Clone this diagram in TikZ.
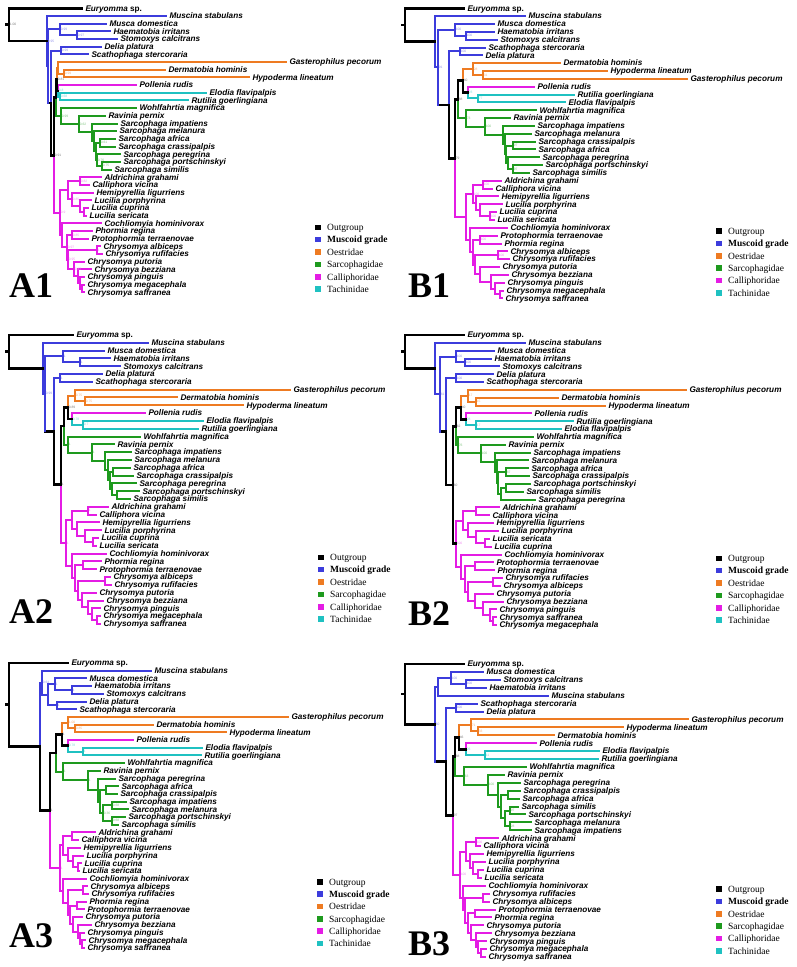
\documentclass[tikz,border=0pt]{standalone}
\usepackage{fontspec}
\setmainfont{Liberation Serif}
\setsansfont{Liberation Sans}
\usetikzlibrary{calc}
\definecolor{mb}{HTML}{3C3CDC}
\definecolor{mo}{HTML}{EE7B22}
\definecolor{mg}{HTML}{1E9A1E}
\definecolor{mm}{HTML}{E41CE4}
\definecolor{mc}{HTML}{1FC1C1}
\tikzset{
 Ck/.style={draw=black, line width=2.7pt, line cap=rect},
 Cb/.style={draw=mb, line width=2pt, line cap=rect},
 Co/.style={draw=mo, line width=2pt, line cap=rect},
 Cg/.style={draw=mg, line width=2pt, line cap=rect},
 Cm/.style={draw=mm, line width=2pt, line cap=rect},
 Cc/.style={draw=mc, line width=2pt, line cap=rect},
 tiplab/.style={anchor=base west, inner sep=0pt, xshift=3.3pt, yshift=-2.8pt, font=\fontsize{8.2}{8.2}\selectfont\sffamily\bfseries\itshape},
 suplab/.style={anchor=west, inner sep=0.6pt, font=\fontsize{3.3}{3.3}\selectfont\sffamily},
 leglab/.style={anchor=base west, inner sep=0pt, yshift=-3.3pt, font=\fontsize{9.5}{10}\selectfont},
 plab/.style={anchor=base west, inner sep=0pt, font=\fontsize{36}{36}\selectfont\bfseries},
}
% tip: name, row, parent x, x, style, label
\newcommand\Tp[6]{%
 \coordinate (#1) at ({(\PX+#4)*1pt},{-(\PY+#2*\PD)*1pt});
 \draw[#5] (#1) -- ++({(#3-#4)*1pt},0);
 \node[tiplab] (#1l) at (#1) {#6};}
% node: name, parent x, x, stem style, child1, child2, top style, bottom style
\newcommand\Nd[8]{%
 \path let \p1=(#5), \p2=(#6) in coordinate (#1) at ({(\PX+#3)*1pt},{0.5*\y1+0.5*\y2});
 \draw[#7] (#1) -- (#1 |- #5);
 \draw[#8] (#1) -- (#1 |- #6);
 \draw[#4] (#1) -- ++({(#2-#3)*1pt},0);}
\newcommand\Nu[6]{\Nd{#1}{#2}{#3}{#4}{#5}{#6}{#4}{#4}}
\newcommand\Sv[3]{\node[suplab,text=#3] (#1s) at (#1) {#2};}
\newcommand\Lg[2]{%
 \foreach \legc/\legt [count=\i from 0] in {black/Outgroup, mb/{\bfseries Muscoid grade}, mo/Oestridae, mg/Sarcophagidae, mm/Calliphoridae, mc/Tachinidae}{
   \fill[\legc] ({#1*1pt},{-(#2+\i*12.35)*1pt-2.8pt}) rectangle ++(5.6pt,5.6pt);
   \node[leglab] (lg\i) at ({(#1+12)*1pt},{-(#2+\i*12.35)*1pt}) {\legt};
 }}
\begin{document}
\begin{tikzpicture}[x=1pt,y=1pt]
\useasboundingbox (0,0) rectangle (796,-967);
\fill[white] (0,0) rectangle (796,-967);

%================ A1 ================
\begin{scope}[name prefix=A1-]
\def\PX{0}\def\PY{8.3}\def\PD{7.68}
\Tp{eu}{0}{9}{82}{Ck}{Euryomma {\upshape sp.}}
\Tp{t1}{1}{47}{166}{Cb}{Muscina stabulans}
\Tp{t2}{2}{60}{106}{Cb}{Musca domestica}
\Tp{t3}{3}{77}{110}{Cb}{Haematobia irritans}
\Tp{t4}{4}{77}{117}{Cb}{Stomoxys calcitrans}
\Tp{t5}{5}{61}{101}{Cb}{Delia platura}
\Tp{t6}{6}{61}{88}{Cb}{Scathophaga stercoraria}
\Tp{t7}{7}{58}{286}{Co}{Gasterophilus pecorum}
\Tp{t8}{8}{64}{165}{Co}{Dermatobia hominis}
\Tp{t9}{9}{64}{249}{Co}{Hypoderma lineatum}
\Tp{t10}{10}{58}{136}{Cm}{Pollenia rudis}
\Tp{t11}{11}{60}{206}{Cc}{Elodia flavipalpis}
\Tp{t12}{12}{60}{188}{Cc}{Rutilia goerlingiana}
\Tp{t13}{13}{61}{136}{Cg}{Wohlfahrtia magnifica}
\Tp{t14}{14}{79}{105}{Cg}{Ravinia pernix}
\Tp{t15}{15}{92}{117}{Cg}{Sarcophaga impatiens}
\Tp{t16}{16}{94}{116}{Cg}{Sarcophaga melanura}
\Tp{t17}{17}{100}{115}{Cg}{Sarcophaga africa}
\Tp{t18}{18}{100}{115}{Cg}{Sarcophaga crassipalpis}
\Tp{t19}{19}{97}{120}{Cg}{Sarcophaga peregrina}
\Tp{t20}{20}{102}{120}{Cg}{Sarcophaga portschinskyi}
\Tp{t21}{21}{102}{111}{Cg}{Sarcophaga similis}
\Tp{t22}{22}{80}{101}{Cm}{Aldrichina grahami}
\Tp{t23}{23}{80}{89}{Cm}{Calliphora vicina}
\Tp{t24}{24}{72}{93}{Cm}{Hemipyrellia ligurriens}
\Tp{t25}{25}{80}{91}{Cm}{Lucilia porphyrina}
\Tp{t26}{26}{84}{88}{Cm}{Lucilia cuprina}
\Tp{t27}{27}{84}{86}{Cm}{Lucilia sericata}
\Tp{t28}{28}{62}{101}{Cm}{Cochliomyia hominivorax}
\Tp{t29}{29}{72}{92}{Cm}{Phormia regina}
\Tp{t30}{30}{72}{88}{Cm}{Protophormia terraenovae}
\Tp{t31}{31}{97}{100}{Cm}{Chrysomya albiceps}
\Tp{t32}{32}{97}{102}{Cm}{Chrysomya rufifacies}
\Tp{t33}{33}{74}{84}{Cm}{Chrysomya putoria}
\Tp{t34}{34}{78}{91}{Cm}{Chrysomya bezziana}
\Tp{t35}{35}{80}{84}{Cm}{Chrysomya pinguis}
\Tp{t36}{36}{82}{84}{Cm}{Chrysomya megacephala}
\Tp{t37}{37}{82}{84}{Cm}{Chrysomya saffranea}
\Nu{HS}{60}{77}{Cb}{t3}{t4}
\Nu{MG}{48}{60}{Cb}{t2}{HS}
\Nu{DG}{51}{61}{Cb}{t5}{t6}
\Nu{DH}{58}{64}{Co}{t8}{t9}
\Nu{OE}{57}{58}{Co}{t7}{DH}
\Nu{TA}{58}{60}{Cc}{t11}{t12}
\Nd{PT}{57}{58}{Ck}{t10}{TA}{Cm}{Cc}
\Nd{OPT}{56}{57}{Ck}{OE}{PT}{Co}{Ck}
\Nu{AC}{96}{100}{Cg}{t17}{t18}
\Nu{PS}{97}{102}{Cg}{t20}{t21}
\Nu{PPS}{96}{97}{Cg}{t19}{PS}
\Nu{Q}{94}{96}{Cg}{AC}{PPS}
\Nu{M}{92}{94}{Cg}{t16}{Q}
\Nu{S}{79}{92}{Cg}{t15}{M}
\Nu{R1}{61}{79}{Cg}{t14}{S}
\Nu{SAR}{56}{61}{Cg}{t13}{R1}
\Nd{OPTS}{54}{56}{Ck}{OPT}{SAR}{Ck}{Cg}
\Nu{AC2}{68}{80}{Cm}{t22}{t23}
\Nu{LCS}{80}{84}{Cm}{t26}{t27}
\Nu{LL}{72}{80}{Cm}{t25}{LCS}
\Nu{HL}{68}{72}{Cm}{t24}{LL}
\Nu{CL}{60}{68}{Cm}{AC2}{HL}
\Nu{MS}{80}{82}{Cm}{t36}{t37}
\Nu{PG2}{78}{80}{Cm}{t35}{MS}
\Nu{BG}{74}{78}{Cm}{t34}{PG2}
\Nu{PG}{68}{74}{Cm}{t33}{BG}
\Nu{AR}{68}{97}{Cm}{t31}{t32}
\Nu{CR2}{67}{68}{Cm}{AR}{PG}
\Nu{PP}{67}{72}{Cm}{t29}{t30}
\Nu{CR}{62}{67}{Cm}{PP}{CR2}
\Nu{CC}{60}{62}{Cm}{t28}{CR}
\Nu{CAL}{54}{60}{Cm}{CL}{CC}
\Nd{Z}{51}{54}{Ck}{OPTS}{CAL}{Ck}{Cm}
\Nd{Y}{48}{51}{Ck}{DG}{Z}{Cb}{Ck}
\Nu{X}{47}{48}{Cb}{MG}{Y}
\Nd{I}{9}{47}{Ck}{t1}{X}{Cb}{Cb}
\Nu{r}{6}{9}{Ck}{eu}{I}
\Sv{r}{1.00}{gray}\Sv{I}{0.95}{mb!55}\Sv{MG}{0.99}{mb!55}\Sv{HS}{0.97}{mb!55}\Sv{DG}{0.99}{mb!55}
\Sv{DH}{0.99}{mo!60}\Sv{OPT}{0.81}{gray}\Sv{PT}{0.8}{mc!60}\Sv{TA}{0.68}{mc!60}
\Sv{SAR}{0.99}{mg!55}\Sv{R1}{0.62}{mg!55}\Sv{AC}{0.61}{mg!55}\Sv{PPS}{0.76}{mg!55}\Sv{PS}{0.75}{mg!55}
\Sv{Z}{0.91}{gray}\Sv{AC2}{0.82}{mm!50}\Sv{HL}{0.85}{mm!50}\Sv{CAL}{0.9}{mm!50}
\Sv{PP}{0.85}{mm!50}\Sv{CR}{0.97}{mm!50}\Sv{AR}{1}{mm!50}\Sv{CR2}{0.95}{mm!50}\Sv{PG}{0.87}{mm!50}
\Lg{315}{227.3}
\node[plab] (lab) at (9,-297) {A1};
\end{scope}

%================ B1 ================
\begin{scope}[name prefix=B1-]
\def\PX{398}\def\PY{8.3}\def\PD{7.84}
\Tp{eu}{0}{7}{66}{Ck}{Euryomma {\upshape sp.}}
\Tp{t1}{1}{37}{127}{Cb}{Muscina stabulans}
\Tp{t2}{2}{57}{96}{Cb}{Musca domestica}
\Tp{t3}{3}{68}{96}{Cb}{Haematobia irritans}
\Tp{t4}{4}{68}{99}{Cb}{Stomoxys calcitrans}
\Tp{t5}{5}{62}{87}{Cb}{Scathophaga stercoraria}
\Tp{t6}{6}{62}{84}{Cb}{Delia platura}
\Tp{t7}{7}{75}{162}{Co}{Dermatobia hominis}
\Tp{t8}{8}{85}{209}{Co}{Hypoderma lineatum}
\Tp{t9}{9}{85}{289}{Co}{Gasterophilus pecorum}
\Tp{t10}{10}{70}{136}{Cm}{Pollenia rudis}
\Tp{t11}{11}{80}{176}{Cc}{Rutilia goerlingiana}
\Tp{t12}{12}{80}{167}{Cc}{Elodia flavipalpis}
\Tp{t13}{13}{68}{138}{Cg}{Wohlfahrtia magnifica}
\Tp{t14}{14}{87}{112}{Cg}{Ravinia pernix}
\Tp{t15}{15}{105}{136}{Cg}{Sarcophaga impatiens}
\Tp{t16}{16}{107}{133}{Cg}{Sarcophaga melanura}
\Tp{t17}{17}{115}{137}{Cg}{Sarcophaga crassipalpis}
\Tp{t18}{18}{115}{137}{Cg}{Sarcophaga africa}
\Tp{t19}{19}{110}{141}{Cg}{Sarcophaga peregrina}
\Tp{t20}{20}{115}{144}{Cg}{Sarcophaga portschinskyi}
\Tp{t21}{21}{115}{131}{Cg}{Sarcophaga similis}
\Tp{t22}{22}{85}{103}{Cm}{Aldrichina grahami}
\Tp{t23}{23}{85}{94}{Cm}{Calliphora vicina}
\Tp{t24}{24}{78}{100}{Cm}{Hemipyrellia ligurriens}
\Tp{t25}{25}{82}{104}{Cm}{Lucilia porphyrina}
\Tp{t26}{26}{92}{98}{Cm}{Lucilia cuprina}
\Tp{t27}{27}{92}{96}{Cm}{Lucilia sericata}
\Tp{t28}{28}{72}{109}{Cm}{Cochliomyia hominivorax}
\Tp{t29}{29}{82}{99}{Cm}{Protophormia terraenovae}
\Tp{t30}{30}{82}{103}{Cm}{Phormia regina}
\Tp{t31}{31}{100}{109}{Cm}{Chrysomya albiceps}
\Tp{t32}{32}{100}{111}{Cm}{Chrysomya rufifacies}
\Tp{t33}{33}{82}{101}{Cm}{Chrysomya putoria}
\Tp{t34}{34}{93}{110}{Cm}{Chrysomya bezziana}
\Tp{t35}{35}{97}{106}{Cm}{Chrysomya pinguis}
\Tp{t36}{36}{102}{105}{Cm}{Chrysomya megacephala}
\Tp{t37}{37}{102}{104}{Cm}{Chrysomya saffranea}
\Nu{HS}{57}{68}{Cb}{t3}{t4}
\Nu{MG}{40}{57}{Cb}{t2}{HS}
\Nu{DG}{51}{62}{Cb}{t5}{t6}
\Nu{HG}{75}{85}{Co}{t8}{t9}
\Nu{OE}{65}{75}{Co}{t7}{HG}
\Nu{TA}{70}{80}{Cc}{t11}{t12}
\Nd{PT}{65}{70}{Ck}{t10}{TA}{Cm}{Cc}
\Nd{OPT}{60}{65}{Ck}{OE}{PT}{Co}{Ck}
\Nu{AC}{108}{115}{Cg}{t17}{t18}
\Nu{PS}{110}{115}{Cg}{t20}{t21}
\Nu{PPS}{108}{110}{Cg}{t19}{PS}
\Nu{Q}{107}{108}{Cg}{AC}{PPS}
\Nu{M}{105}{107}{Cg}{t16}{Q}
\Nu{S}{87}{105}{Cg}{t15}{M}
\Nu{R1}{68}{87}{Cg}{t14}{S}
\Nu{SAR}{60}{68}{Cg}{t13}{R1}
\Nd{OPTS}{57}{60}{Ck}{OPT}{SAR}{Ck}{Cg}
\Nu{AC2}{75}{85}{Cm}{t22}{t23}
\Nu{LCS}{82}{92}{Cm}{t26}{t27}
\Nu{LL}{78}{82}{Cm}{t25}{LCS}
\Nu{HL}{75}{78}{Cm}{t24}{LL}
\Nu{CL}{68}{75}{Cm}{AC2}{HL}
\Nu{MS}{97}{102}{Cm}{t36}{t37}
\Nu{PG2}{93}{97}{Cm}{t35}{MS}
\Nu{BG}{82}{93}{Cm}{t34}{PG2}
\Nu{PG}{77}{82}{Cm}{t33}{BG}
\Nu{AR}{77}{100}{Cm}{t31}{t32}
\Nu{CR2}{75}{77}{Cm}{AR}{PG}
\Nu{PP}{75}{82}{Cm}{t29}{t30}
\Nu{CR}{72}{75}{Cm}{PP}{CR2}
\Nu{CC}{68}{72}{Cm}{t28}{CR}
\Nu{CAL}{57}{68}{Cm}{CL}{CC}
\Nd{Z}{51}{57}{Ck}{OPTS}{CAL}{Ck}{Cm}
\Nd{Y}{40}{51}{Ck}{DG}{Z}{Cb}{Ck}
\Nu{X}{37}{40}{Cb}{MG}{Y}
\Nd{I}{7}{37}{Ck}{t1}{X}{Cb}{Cb}
\Nu{r}{4}{7}{Ck}{eu}{I}
\Sv{MG}{100}{mb!55}\Sv{HS}{100}{mb!55}\Sv{DG}{100}{mb!55}\Sv{X}{91}{mb!55}
\Sv{OE}{28}{mo!60}\Sv{HG}{31}{mo!60}\Sv{OPT}{40}{gray}\Sv{PT}{23}{mc!60}\Sv{TA}{77}{mc!60}
\Sv{OPTS}{88}{gray}\Sv{SAR}{73}{mg!55}\Sv{R1}{100}{mg!55}\Sv{AC}{97}{mg!55}\Sv{PS}{97}{mg!55}
\Sv{Z}{79}{gray}\Sv{AC2}{100}{mm!50}\Sv{CL}{100}{mm!50}\Sv{LCS}{100}{mm!50}\Sv{PP}{100}{mm!50}\Sv{AR}{100}{mm!50}
\Lg{716}{231}
\node[plab] (lab) at (408,-297) {B1};
\end{scope}

%================ A2 ================
\begin{scope}[name prefix=A2-]
\def\PX{0}\def\PY{335}\def\PD{7.81}
\Tp{eu}{0}{9}{73}{Ck}{Euryomma {\upshape sp.}}
\Tp{t1}{1}{43}{148}{Cb}{Muscina stabulans}
\Tp{t2}{2}{63}{104}{Cb}{Musca domestica}
\Tp{t3}{3}{80}{110}{Cb}{Haematobia irritans}
\Tp{t4}{4}{80}{120}{Cb}{Stomoxys calcitrans}
\Tp{t5}{5}{60}{102}{Cb}{Delia platura}
\Tp{t6}{6}{60}{92}{Cb}{Scathophaga stercoraria}
\Tp{t7}{7}{75}{290}{Co}{Gasterophilus pecorum}
\Tp{t8}{8}{85}{177}{Co}{Dermatobia hominis}
\Tp{t9}{9}{85}{243}{Co}{Hypoderma lineatum}
\Tp{t10}{10}{72}{145}{Cm}{Pollenia rudis}
\Tp{t11}{11}{83}{203}{Cc}{Elodia flavipalpis}
\Tp{t12}{12}{83}{198}{Cc}{Rutilia goerlingiana}
\Tp{t13}{13}{68}{140}{Cg}{Wohlfahrtia magnifica}
\Tp{t14}{14}{92}{114}{Cg}{Ravinia pernix}
\Tp{t15}{15}{105}{131}{Cg}{Sarcophaga impatiens}
\Tp{t16}{16}{108}{131}{Cg}{Sarcophaga melanura}
\Tp{t17}{17}{113}{130}{Cg}{Sarcophaga africa}
\Tp{t18}{18}{113}{133}{Cg}{Sarcophaga crassipalpis}
\Tp{t19}{19}{112}{136}{Cg}{Sarcophaga peregrina}
\Tp{t20}{20}{117}{139}{Cg}{Sarcophaga portschinskyi}
\Tp{t21}{21}{117}{130}{Cg}{Sarcophaga similis}
\Tp{t22}{22}{88}{108}{Cm}{Aldrichina grahami}
\Tp{t23}{23}{88}{96}{Cm}{Calliphora vicina}
\Tp{t24}{24}{77}{99}{Cm}{Hemipyrellia ligurriens}
\Tp{t25}{25}{85}{101}{Cm}{Lucilia porphyrina}
\Tp{t26}{26}{93}{98}{Cm}{Lucilia cuprina}
\Tp{t27}{27}{93}{96}{Cm}{Lucilia sericata}
\Tp{t28}{28}{72}{106}{Cm}{Cochliomyia hominivorax}
\Tp{t29}{29}{83}{101}{Cm}{Phormia regina}
\Tp{t30}{30}{83}{96}{Cm}{Protophormia terraenovae}
\Tp{t31}{31}{105}{110}{Cm}{Chrysomya albiceps}
\Tp{t32}{32}{105}{111}{Cm}{Chrysomya rufifacies}
\Tp{t33}{33}{82}{96}{Cm}{Chrysomya putoria}
\Tp{t34}{34}{88}{103}{Cm}{Chrysomya bezziana}
\Tp{t35}{35}{92}{100}{Cm}{Chrysomya pinguis}
\Tp{t36}{36}{97}{100}{Cm}{Chrysomya megacephala}
\Tp{t37}{37}{97}{100}{Cm}{Chrysomya saffranea}
\Nu{HS}{63}{80}{Cb}{t3}{t4}
\Nu{MG}{45}{63}{Cb}{t2}{HS}
\Nu{DG}{54}{60}{Cb}{t5}{t6}
\Nu{DH}{75}{85}{Co}{t8}{t9}
\Nu{OE}{68}{75}{Co}{t7}{DH}
\Nu{TA}{72}{83}{Cc}{t11}{t12}
\Nd{PT}{68}{72}{Ck}{t10}{TA}{Cm}{Cc}
\Nd{OPT}{64}{68}{Ck}{OE}{PT}{Co}{Ck}
\Nu{AC}{110}{113}{Cg}{t17}{t18}
\Nu{PS}{112}{117}{Cg}{t20}{t21}
\Nu{PPS}{110}{112}{Cg}{t19}{PS}
\Nu{Q}{108}{110}{Cg}{AC}{PPS}
\Nu{M}{105}{108}{Cg}{t16}{Q}
\Nu{S}{92}{105}{Cg}{t15}{M}
\Nu{R1}{68}{92}{Cg}{t14}{S}
\Nu{SAR}{64}{68}{Cg}{t13}{R1}
\Nd{OPTS}{61}{64}{Ck}{OPT}{SAR}{Ck}{Cg}
\Nu{AC2}{72}{88}{Cm}{t22}{t23}
\Nu{LCS}{85}{93}{Cm}{t26}{t27}
\Nu{LL}{77}{85}{Cm}{t25}{LCS}
\Nu{HL}{72}{77}{Cm}{t24}{LL}
\Nu{CL}{66}{72}{Cm}{AC2}{HL}
\Nu{MS}{92}{97}{Cm}{t36}{t37}
\Nu{PG2}{88}{92}{Cm}{t35}{MS}
\Nu{BG}{82}{88}{Cm}{t34}{PG2}
\Nu{PG}{78}{82}{Cm}{t33}{BG}
\Nu{AR}{78}{105}{Cm}{t31}{t32}
\Nu{CR2}{75}{78}{Cm}{AR}{PG}
\Nu{PP}{75}{83}{Cm}{t29}{t30}
\Nu{CR}{72}{75}{Cm}{PP}{CR2}
\Nu{CC}{66}{72}{Cm}{t28}{CR}
\Nu{CAL}{61}{66}{Cm}{CL}{CC}
\Nd{Z}{54}{61}{Ck}{OPTS}{CAL}{Ck}{Cm}
\Nd{Y}{45}{54}{Ck}{DG}{Z}{Cb}{Ck}
\Nu{X}{43}{45}{Cb}{MG}{Y}
\Nd{I}{9}{43}{Ck}{t1}{X}{Cb}{Cb}
\Nu{r}{6}{9}{Ck}{eu}{I}
\Sv{MG}{1}{mb!55}\Sv{HS}{1}{mb!55}\Sv{DG}{1}{mb!55}\Sv{X}{0.99}{mb!55}
\Sv{OE}{0.75}{mo!60}\Sv{DH}{0.75}{mo!60}\Sv{OPT}{0.89}{gray}\Sv{PT}{0.78}{mc!60}\Sv{TA}{0.7}{mc!60}
\Sv{SAR}{1}{mg!55}\Sv{R1}{1}{mg!55}\Sv{Z}{1}{gray}\Sv{CAL}{1}{mm!50}\Sv{AC2}{1}{mm!50}
\Lg{318}{557.3}
\node[plab] (lab) at (9,-623) {A2};
\end{scope}

%================ B2 ================
\begin{scope}[name prefix=B2-]
\def\PX{398}\def\PY{335}\def\PD{7.84}
\Tp{eu}{0}{7}{66}{Ck}{Euryomma {\upshape sp.}}
\Tp{t1}{1}{37}{127}{Cb}{Muscina stabulans}
\Tp{t2}{2}{58}{96}{Cb}{Musca domestica}
\Tp{t3}{3}{67}{93}{Cb}{Haematobia irritans}
\Tp{t4}{4}{67}{101}{Cb}{Stomoxys calcitrans}
\Tp{t5}{5}{58}{95}{Cb}{Delia platura}
\Tp{t6}{6}{58}{85}{Cb}{Scathophaga stercoraria}
\Tp{t7}{7}{70}{288}{Co}{Gasterophilus pecorum}
\Tp{t8}{8}{78}{160}{Co}{Dermatobia hominis}
\Tp{t9}{9}{78}{207}{Co}{Hypoderma lineatum}
\Tp{t10}{10}{68}{133}{Cm}{Pollenia rudis}
\Tp{t11}{11}{78}{175}{Cc}{Rutilia goerlingiana}
\Tp{t12}{12}{78}{163}{Cc}{Elodia flavipalpis}
\Tp{t13}{13}{60}{135}{Cg}{Wohlfahrtia magnifica}
\Tp{t14}{14}{83}{107}{Cg}{Ravinia pernix}
\Tp{t15}{15}{97}{132}{Cg}{Sarcophaga impatiens}
\Tp{t16}{16}{99}{130}{Cg}{Sarcophaga melanura}
\Tp{t17}{17}{108}{130}{Cg}{Sarcophaga africa}
\Tp{t18}{18}{108}{131}{Cg}{Sarcophaga crassipalpis}
\Tp{t19}{19}{108}{132}{Cg}{Sarcophaga portschinskyi}
\Tp{t20}{20}{108}{125}{Cg}{Sarcophaga similis}
\Tp{t21}{21}{103}{137}{Cg}{Sarcophaga peregrina}
\Tp{t22}{22}{78}{101}{Cm}{Aldrichina grahami}
\Tp{t23}{23}{78}{91}{Cm}{Calliphora vicina}
\Tp{t24}{24}{70}{95}{Cm}{Hemipyrellia ligurriens}
\Tp{t25}{25}{78}{100}{Cm}{Lucilia porphyrina}
\Tp{t26}{26}{87}{91}{Cm}{Lucilia sericata}
\Tp{t27}{27}{87}{93}{Cm}{Lucilia cuprina}
\Tp{t28}{28}{63}{103}{Cm}{Cochliomyia hominivorax}
\Tp{t29}{29}{77}{95}{Cm}{Protophormia terraenovae}
\Tp{t30}{30}{77}{96}{Cm}{Phormia regina}
\Tp{t31}{31}{95}{104}{Cm}{Chrysomya rufifacies}
\Tp{t32}{32}{95}{102}{Cm}{Chrysomya albiceps}
\Tp{t33}{33}{77}{95}{Cm}{Chrysomya putoria}
\Tp{t34}{34}{85}{105}{Cm}{Chrysomya bezziana}
\Tp{t35}{35}{92}{98}{Cm}{Chrysomya pinguis}
\Tp{t36}{36}{95}{98}{Cm}{Chrysomya saffranea}
\Tp{t37}{37}{95}{98}{Cm}{Chrysomya megacephala}
\Nu{HS}{58}{67}{Cb}{t3}{t4}
\Nu{MG}{42}{58}{Cb}{t2}{HS}
\Nu{DG}{48}{58}{Cb}{t5}{t6}
\Nu{DH}{70}{78}{Co}{t8}{t9}
\Nu{OE}{63}{70}{Co}{t7}{DH}
\Nu{TA}{68}{78}{Cc}{t11}{t12}
\Nd{PT}{63}{68}{Ck}{t10}{TA}{Cm}{Cc}
\Nd{OPT}{58}{63}{Ck}{OE}{PT}{Co}{Ck}
\Nu{AC}{100}{108}{Cg}{t17}{t18}
\Nu{PS}{103}{108}{Cg}{t19}{t20}
\Nu{PSP}{100}{103}{Cg}{PS}{t21}
\Nu{Q}{99}{100}{Cg}{AC}{PSP}
\Nu{M}{97}{99}{Cg}{t16}{Q}
\Nu{S}{83}{97}{Cg}{t15}{M}
\Nu{R1}{60}{83}{Cg}{t14}{S}
\Nu{SAR}{58}{60}{Cg}{t13}{R1}
\Nd{OPTS}{55}{58}{Ck}{OPT}{SAR}{Ck}{Cg}
\Nu{AC2}{65}{78}{Cm}{t22}{t23}
\Nu{LCS}{78}{87}{Cm}{t26}{t27}
\Nu{LL}{70}{78}{Cm}{t25}{LCS}
\Nu{HL}{65}{70}{Cm}{t24}{LL}
\Nu{CL}{58}{65}{Cm}{AC2}{HL}
\Nu{MS}{92}{95}{Cm}{t36}{t37}
\Nu{PG2}{85}{92}{Cm}{t35}{MS}
\Nu{BG}{77}{85}{Cm}{t34}{PG2}
\Nu{PG}{70}{77}{Cm}{t33}{BG}
\Nu{AR}{70}{95}{Cm}{t31}{t32}
\Nu{CR2}{67}{70}{Cm}{AR}{PG}
\Nu{PP}{67}{77}{Cm}{t29}{t30}
\Nu{CR}{63}{67}{Cm}{PP}{CR2}
\Nu{CC}{58}{63}{Cm}{t28}{CR}
\Nd{CAL}{55}{58}{Ck}{CL}{CC}{Cm}{Cm}
\Nu{Z}{48}{55}{Ck}{OPTS}{CAL}
\Nd{Y}{42}{48}{Ck}{DG}{Z}{Cb}{Ck}
\Nu{X}{37}{42}{Cb}{MG}{Y}
\Nd{I}{7}{37}{Ck}{t1}{X}{Cb}{Cb}
\Nu{r}{4}{7}{Ck}{eu}{I}
\Sv{MG}{100}{mb!55}\Sv{HS}{100}{mb!55}\Sv{DG}{100}{mb!55}\Sv{X}{61}{mb!55}
\Sv{OE}{17}{mo!60}\Sv{DH}{15}{mo!60}\Sv{OPT}{40}{gray}\Sv{PT}{28}{mc!60}\Sv{TA}{17}{mc!60}
\Sv{OPTS}{62}{gray}\Sv{SAR}{76}{mg!55}\Sv{R1}{100}{mg!55}\Sv{AC}{87}{mg!55}
\Sv{Z}{60}{gray}\Sv{CAL}{100}{mm!50}
\Lg{716}{558.3}
\node[plab] (lab) at (408,-625) {B2};
\end{scope}

%================ A3 ================
\begin{scope}[name prefix=A3-]
\def\PX{0}\def\PY{663}\def\PD{7.7}
\Tp{eu}{0}{9}{68}{Ck}{Euryomma {\upshape sp.}}
\Tp{t1}{1}{42}{151}{Cb}{Muscina stabulans}
\Tp{t2}{2}{55}{86}{Cb}{Musca domestica}
\Tp{t3}{3}{72}{91}{Cb}{Haematobia irritans}
\Tp{t4}{4}{72}{103}{Cb}{Stomoxys calcitrans}
\Tp{t5}{5}{57}{86}{Cb}{Delia platura}
\Tp{t6}{6}{57}{76}{Cb}{Scathophaga stercoraria}
\Tp{t7}{7}{68}{288}{Co}{Gasterophilus pecorum}
\Tp{t8}{8}{75}{153}{Co}{Dermatobia hominis}
\Tp{t9}{9}{75}{226}{Co}{Hypoderma lineatum}
\Tp{t10}{10}{68}{133}{Cm}{Pollenia rudis}
\Tp{t11}{11}{83}{202}{Cc}{Elodia flavipalpis}
\Tp{t12}{12}{83}{201}{Cc}{Rutilia goerlingiana}
\Tp{t13}{13}{63}{124}{Cg}{Wohlfahrtia magnifica}
\Tp{t14}{14}{88}{100}{Cg}{Ravinia pernix}
\Tp{t15}{15}{98}{115}{Cg}{Sarcophaga peregrina}
\Tp{t16}{16}{106}{118}{Cg}{Sarcophaga africa}
\Tp{t17}{17}{106}{117}{Cg}{Sarcophaga crassipalpis}
\Tp{t18}{18}{112}{126}{Cg}{Sarcophaga impatiens}
\Tp{t19}{19}{112}{128}{Cg}{Sarcophaga melanura}
\Tp{t20}{20}{112}{125}{Cg}{Sarcophaga portschinskyi}
\Tp{t21}{21}{112}{118}{Cg}{Sarcophaga similis}
\Tp{t22}{22}{72}{95}{Cm}{Aldrichina grahami}
\Tp{t23}{23}{72}{78}{Cm}{Calliphora vicina}
\Tp{t24}{24}{68}{80}{Cm}{Hemipyrellia ligurriens}
\Tp{t25}{25}{73}{83}{Cm}{Lucilia porphyrina}
\Tp{t26}{26}{78}{81}{Cm}{Lucilia cuprina}
\Tp{t27}{27}{78}{79}{Cm}{Lucilia sericata}
\Tp{t28}{28}{63}{86}{Cm}{Cochliomyia hominivorax}
\Tp{t29}{29}{83}{87}{Cm}{Chrysomya albiceps}
\Tp{t30}{30}{83}{88}{Cm}{Chrysomya rufifacies}
\Tp{t31}{31}{77}{86}{Cm}{Phormia regina}
\Tp{t32}{32}{77}{84}{Cm}{Protophormia terraenovae}
\Tp{t33}{33}{73}{82}{Cm}{Chrysomya putoria}
\Tp{t34}{34}{78}{91}{Cm}{Chrysomya bezziana}
\Tp{t35}{35}{80}{84}{Cm}{Chrysomya pinguis}
\Tp{t36}{36}{82}{85}{Cm}{Chrysomya megacephala}
\Tp{t37}{37}{82}{84}{Cm}{Chrysomya saffranea}
\Nu{HS}{55}{72}{Cb}{t3}{t4}
\Nu{MG}{48}{55}{Cb}{t2}{HS}
\Nu{DG}{48}{57}{Cb}{t5}{t6}
\Nu{M2}{42}{48}{Cb}{MG}{DG}
\Nu{M1}{40}{42}{Cb}{t1}{M2}
\Nu{DH}{68}{75}{Co}{t8}{t9}
\Nu{OE}{62}{68}{Co}{t7}{DH}
\Nu{TA}{68}{83}{Cc}{t11}{t12}
\Nd{PT}{62}{68}{Ck}{t10}{TA}{Cm}{Cc}
\Nd{OPT}{56}{62}{Ck}{OE}{PT}{Co}{Ck}
\Nu{AC}{100}{106}{Cg}{t16}{t17}
\Nu{IM}{103}{112}{Cg}{t18}{t19}
\Nu{PS}{103}{112}{Cg}{t20}{t21}
\Nu{Q}{100}{103}{Cg}{IM}{PS}
\Nu{R2}{98}{100}{Cg}{AC}{Q}
\Nu{S}{88}{98}{Cg}{t15}{R2}
\Nu{R1}{63}{88}{Cg}{t14}{S}
\Nu{SAR}{56}{63}{Cg}{t13}{R1}
\Nd{OPTS}{50}{56}{Ck}{OPT}{SAR}{Ck}{Cg}
\Nu{AC2}{63}{72}{Cm}{t22}{t23}
\Nu{LCS}{73}{78}{Cm}{t26}{t27}
\Nu{LL}{68}{73}{Cm}{t25}{LCS}
\Nu{HL}{63}{68}{Cm}{t24}{LL}
\Nu{CL}{60}{63}{Cm}{AC2}{HL}
\Nu{MS}{80}{82}{Cm}{t36}{t37}
\Nu{PG2}{78}{80}{Cm}{t35}{MS}
\Nu{BG}{73}{78}{Cm}{t34}{PG2}
\Nu{PG}{70}{73}{Cm}{t33}{BG}
\Nu{PP}{70}{77}{Cm}{t31}{t32}
\Nu{R3}{68}{70}{Cm}{PP}{PG}
\Nu{AR}{68}{83}{Cm}{t29}{t30}
\Nu{CR}{63}{68}{Cm}{AR}{R3}
\Nu{CC}{60}{63}{Cm}{t28}{CR}
\Nu{CAL}{50}{60}{Cm}{CL}{CC}
\Nd{Z}{40}{50}{Ck}{OPTS}{CAL}{Ck}{Cm}
\Nd{I}{9}{40}{Ck}{M1}{Z}{Cb}{Ck}
\Nu{r}{6}{9}{Ck}{eu}{I}
\Sv{M1}{0.64}{mb!55}\Sv{MG}{1}{mb!55}\Sv{HS}{1}{mb!55}\Sv{DG}{1}{mb!55}
\Sv{OE}{1.00}{mo!60}\Sv{DH}{0.85}{mo!60}\Sv{OPT}{1}{gray}\Sv{PT}{0.78}{mc!60}\Sv{TA}{1}{mc!60}
\Sv{SAR}{1}{mg!55}\Sv{R1}{1}{mg!55}\Sv{IM}{0.68}{mg!55}\Sv{Q}{0.36}{mg!55}\Sv{PS}{0.68}{mg!55}
\Sv{Z}{1}{gray}\Sv{CAL}{1}{mm!50}
\Lg{317}{881.7}
\node[plab] (lab) at (9,-947) {A3};
\end{scope}

%================ B3 ================
\begin{scope}[name prefix=B3-]
\def\PX{398}\def\PY{664}\def\PD{7.92}
\Tp{eu}{0}{7}{66}{Ck}{Euryomma {\upshape sp.}}
\Tp{t1}{1}{53}{85}{Cb}{Musca domestica}
\Tp{t2}{2}{68}{102}{Cb}{Stomoxys calcitrans}
\Tp{t3}{3}{68}{88}{Cb}{Haematobia irritans}
\Tp{t4}{4}{40}{150}{Cb}{Muscina stabulans}
\Tp{t5}{5}{58}{79}{Cb}{Scathophaga stercoraria}
\Tp{t6}{6}{58}{85}{Cb}{Delia platura}
\Tp{t7}{7}{73}{290}{Co}{Gasterophilus pecorum}
\Tp{t8}{8}{80}{225}{Co}{Hypoderma lineatum}
\Tp{t9}{9}{80}{156}{Co}{Dermatobia hominis}
\Tp{t10}{10}{68}{138}{Cm}{Pollenia rudis}
\Tp{t11}{11}{87}{201}{Cc}{Elodia flavipalpis}
\Tp{t12}{12}{87}{200}{Cc}{Rutilia goerlingiana}
\Tp{t13}{13}{66}{128}{Cg}{Wohlfahrtia magnifica}
\Tp{t14}{14}{90}{106}{Cg}{Ravinia pernix}
\Tp{t15}{15}{100}{122}{Cg}{Sarcophaga peregrina}
\Tp{t16}{16}{110}{122}{Cg}{Sarcophaga crassipalpis}
\Tp{t17}{17}{110}{121}{Cg}{Sarcophaga africa}
\Tp{t18}{18}{112}{120}{Cg}{Sarcophaga similis}
\Tp{t19}{19}{112}{127}{Cg}{Sarcophaga portschinskyi}
\Tp{t20}{20}{112}{133}{Cg}{Sarcophaga melanura}
\Tp{t21}{21}{112}{133}{Cg}{Sarcophaga impatiens}
\Tp{t22}{22}{78}{100}{Cm}{Aldrichina grahami}
\Tp{t23}{23}{78}{82}{Cm}{Calliphora vicina}
\Tp{t24}{24}{72}{85}{Cm}{Hemipyrellia ligurriens}
\Tp{t25}{25}{75}{87}{Cm}{Lucilia porphyrina}
\Tp{t26}{26}{80}{85}{Cm}{Lucilia cuprina}
\Tp{t27}{27}{80}{83}{Cm}{Lucilia sericata}
\Tp{t28}{28}{65}{87}{Cm}{Cochliomyia hominivorax}
\Tp{t29}{29}{85}{91}{Cm}{Chrysomya rufifacies}
\Tp{t30}{30}{85}{91}{Cm}{Chrysomya albiceps}
\Tp{t31}{31}{77}{97}{Cm}{Protophormia terraenovae}
\Tp{t32}{32}{77}{93}{Cm}{Phormia regina}
\Tp{t33}{33}{73}{85}{Cm}{Chrysomya putoria}
\Tp{t34}{34}{78}{93}{Cm}{Chrysomya bezziana}
\Tp{t35}{35}{80}{88}{Cm}{Chrysomya pinguis}
\Tp{t36}{36}{83}{88}{Cm}{Chrysomya megacephala}
\Tp{t37}{37}{83}{87}{Cm}{Chrysomya saffranea}
\Nu{HS}{53}{68}{Cb}{t2}{t3}
\Nu{MG}{40}{53}{Cb}{t1}{HS}
\Nu{A}{37}{40}{Cb}{MG}{t4}
\Nu{DG}{48}{58}{Cb}{t5}{t6}
\Nu{HD}{73}{80}{Co}{t8}{t9}
\Nu{OE}{61}{73}{Co}{t7}{HD}
\Nu{TA}{68}{87}{Cc}{t11}{t12}
\Nd{PT}{61}{68}{Ck}{t10}{TA}{Cm}{Cc}
\Nd{OPT}{57}{61}{Ck}{OE}{PT}{Co}{Ck}
\Nu{AC}{103}{110}{Cg}{t16}{t17}
\Nu{SP}{107}{112}{Cg}{t18}{t19}
\Nu{MI}{107}{112}{Cg}{t20}{t21}
\Nu{Q}{103}{107}{Cg}{SP}{MI}
\Nu{R2}{100}{103}{Cg}{AC}{Q}
\Nu{S}{90}{100}{Cg}{t15}{R2}
\Nu{R1}{66}{90}{Cg}{t14}{S}
\Nu{SAR}{57}{66}{Cg}{t13}{R1}
\Nd{OPTS}{55}{57}{Ck}{OPT}{SAR}{Ck}{Cg}
\Nu{AC2}{68}{78}{Cm}{t22}{t23}
\Nu{LCS}{75}{80}{Cm}{t26}{t27}
\Nu{LL}{72}{75}{Cm}{t25}{LCS}
\Nu{HL}{68}{72}{Cm}{t24}{LL}
\Nu{CL}{62}{68}{Cm}{AC2}{HL}
\Nu{MS}{80}{83}{Cm}{t36}{t37}
\Nu{PG2}{78}{80}{Cm}{t35}{MS}
\Nu{BG}{73}{78}{Cm}{t34}{PG2}
\Nu{PG}{70}{73}{Cm}{t33}{BG}
\Nu{PP}{70}{77}{Cm}{t31}{t32}
\Nu{R3}{67}{70}{Cm}{PP}{PG}
\Nu{RA}{67}{85}{Cm}{t29}{t30}
\Nu{CR}{65}{67}{Cm}{RA}{R3}
\Nu{CC}{62}{65}{Cm}{t28}{CR}
\Nu{CAL}{55}{62}{Cm}{CL}{CC}
\Nd{Z}{48}{55}{Ck}{OPTS}{CAL}{Ck}{Cm}
\Nd{Y}{37}{48}{Ck}{DG}{Z}{Cb}{Ck}
\Nd{I}{7}{37}{Ck}{A}{Y}{Cb}{Cb}
\Nu{r}{4}{7}{Ck}{eu}{I}
\Sv{MG}{100}{mb!55}\Sv{HS}{100}{mb!55}\Sv{DG}{100}{mb!55}\Sv{I}{60}{mb!55}
\Sv{OE}{71}{mo!60}\Sv{HD}{33}{mo!60}\Sv{OPT}{46}{gray}\Sv{PT}{26}{mc!60}\Sv{TA}{11}{mc!60}
\Sv{OPTS}{88}{gray}\Sv{SAR}{63}{mg!55}\Sv{R1}{100}{mg!55}\Sv{SP}{97}{mg!55}\Sv{MI}{28}{mg!55}
\Sv{Z}{97}{gray}\Sv{CAL}{100}{mm!50}\Sv{AC2}{100}{mm!50}
\Lg{716}{889}
\node[plab] (lab) at (408,-955) {B3};
\end{scope}
\end{tikzpicture}
\end{document}
